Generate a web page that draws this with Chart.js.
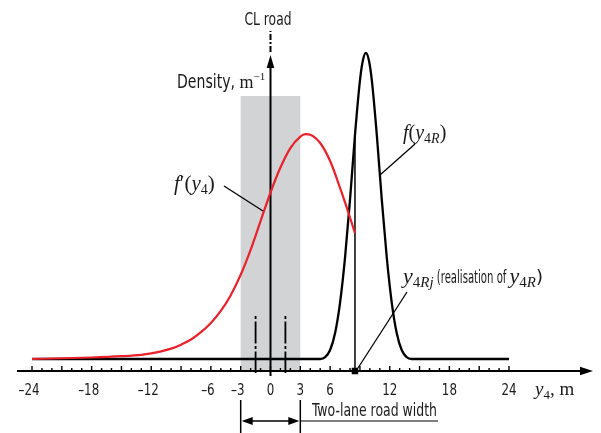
<!DOCTYPE html>
<html><head><meta charset="utf-8">
<script src="https://cdn.jsdelivr.net/npm/chart.js@4.4.1/dist/chart.umd.min.js"></script>
<style>html,body{margin:0;padding:0;background:#fff}#wrap{width:601px;height:433px;position:relative}</style>
</head><body><div id="wrap"><canvas id="c"></canvas></div>
<script>
// ---- data ----
const redX = [-24, -21, -18, -15, -13, -12, -11, -10, -9, -8, -7, -6, -5, -4, -3, -2, -1, 0, 1, 2, 3, 3.5, 4, 5, 6, 7, 8, 8.5];
const redY = [0.000, 0.0008, 0.0016, 0.0030, 0.0045, 0.0060, 0.0082, 0.0112, 0.0155, 0.0210, 0.0290, 0.0390, 0.0520, 0.0690, 0.0910, 0.1180, 0.1490, 0.1800, 0.2070, 0.2280, 0.2405, 0.2432, 0.2425, 0.2335, 0.2140, 0.1850, 0.1530, 0.1360];
const blackX = [-24, 5.0, 5.5, 6.0, 6.5, 7.0, 7.5, 8.0, 8.5, 9.0, 9.3, 9.6, 9.9, 10.2, 10.7, 11.2, 11.7, 12.2, 12.7, 13.2, 13.7, 14.2, 24];
const blackY = [0, 0, 0.002, 0.0097, 0.028, 0.061, 0.1097, 0.172, 0.242, 0.301, 0.323, 0.331, 0.323, 0.301, 0.242, 0.172, 0.1097, 0.061, 0.028, 0.0097, 0.002, 0, 0];
const tickLabels = [-24, -18, -12, -6, -3, 0, 3, 6, 12, 18, 24];
const roadEdges = [-3, 3];
const laneCentres = [-1.5, 1.5];
const realisationX = 8.5;
const realisationY = 0.242;
const xMin = -24, xMax = 24, yMin = -0.013, yMax = 0.3557;

const SANS = '"Liberation Sans Narrow","DejaVu Sans Condensed","Roboto Condensed",sans-serif';
const SERIF = '"Liberation Serif","DejaVu Serif",serif';

// parts: [text, font, dy, targetWidth]
function rich(ctx, x, y, parts, align) {
  const ws = parts.map(p => { ctx.font = p[1]; const n = ctx.measureText(p[0]).width; return p[3] ? p[3] : n; });
  const w = ws.reduce((a, b) => a + b, 0);
  let cx = align === 'center' ? x - w / 2 : (align === 'right' ? x - w : x);
  ctx.textAlign = 'left';
  parts.forEach((p, i) => {
    ctx.font = p[1];
    const n = ctx.measureText(p[0]).width;
    ctx.save();
    ctx.translate(cx, y + (p[2] || 0));
    ctx.scale(ws[i] / n, 1);
    ctx.fillText(p[0], 0, 0);
    ctx.restore();
    cx += ws[i];
  });
}
function line(ctx, x1, y1, x2, y2, w) {
  ctx.beginPath(); ctx.lineWidth = w; ctx.moveTo(x1, y1); ctx.lineTo(x2, y2); ctx.stroke();
}
function arrowHead(ctx, tx, ty, dx, dy, len, hw) {
  const bx = tx - dx * len, by = ty - dy * len;
  ctx.beginPath();
  ctx.moveTo(tx, ty);
  ctx.lineTo(bx - dy * hw, by + dx * hw);
  ctx.lineTo(bx + dy * hw, by - dx * hw);
  ctx.closePath(); ctx.fill();
}

const deco = {
  id: 'deco',
  beforeDatasetsDraw(chart) {
    const ctx = chart.ctx, xs = chart.scales.x, ys = chart.scales.y;
    const X = v => xs.getPixelForValue(v), Y = v => ys.getPixelForValue(v);
    const axY = Y(yMin);
    ctx.save();
    ctx.fillStyle = '#d1d3d4';
    ctx.fillRect(X(roadEdges[0]), 96, X(roadEdges[1]) - X(roadEdges[0]), axY - 96);
    ctx.strokeStyle = '#000'; ctx.fillStyle = '#000';
    line(ctx, 17, axY, 582, axY, 2);
    arrowHead(ctx, 593, axY, 1, 0, 13, 4.2);
    for (let v = xMin; v <= xMax; v++) {
      const h = (v % 3 === 0) ? 5 : 3;
      line(ctx, X(v), axY, X(v), axY - h, 1.4);
    }
    const x0 = X(0);
    line(ctx, x0, 376, x0, 64, 2);
    arrowHead(ctx, x0, 55, 0, -1, 13, 3.8);
    ctx.setLineDash([6, 2, 2, 2]);
    line(ctx, x0, 52, x0, 31, 2);
    ctx.setLineDash([]);
    ctx.setLineDash([3, 2.5, 22, 2.5]);
    for (const v of laneCentres) line(ctx, X(v), 316, X(v), axY + 2, 1.8);
    ctx.setLineDash([]);
    ctx.restore();
  },
  afterDraw(chart) {
    const ctx = chart.ctx, xs = chart.scales.x;
    const X = v => xs.getPixelForValue(v);
    ctx.save();
    ctx.fillStyle = '#1a1a1a'; ctx.strokeStyle = '#000';
    ctx.textBaseline = 'alphabetic';
    // tick labels: digits centred on tick, minus hanging left
    const tf = '15px ' + SANS, sq = 0.88;
    ctx.font = tf;
    for (const v of tickLabels) {
      const s = String(Math.abs(v));
      const w = ctx.measureText(s).width * sq;
      const cx = X(v);
      const parts = v < 0 ? [['\u2013', tf, 0, ctx.measureText('\u2013').width * sq], [s, tf, 0, w]] : [[s, tf, 0, w]];
      const dashW = v < 0 ? parts[0][3] : 0;
      rich(ctx, cx - w / 2 - dashW, 395, parts, 'left');
      ctx.font = tf;
    }
    rich(ctx, 535, 395, [['y', 'italic 19px ' + SERIF], ['4', '13px ' + SERIF, 4], [', m', '19px ' + SERIF]], 'left');
    rich(ctx, 268, 25, [['CL road', '18px ' + SANS, 0, 47]], 'center');
    rich(ctx, 177, 88, [['Density,', '19px ' + SANS, 0, 58], [' m', '18px ' + SERIF], ['\u22121', '11px ' + SERIF, -8]], 'left');
    rich(ctx, 174, 190, [['f', 'italic 21px ' + SERIF], ['\u2032', '21px ' + SERIF], ['(', '21px ' + SERIF], ['y', 'italic 21px ' + SERIF], ['4', '14px ' + SERIF, 4], [')', '21px ' + SERIF]], 'left');
    line(ctx, 224, 186, 263, 211, 1.3);
    rich(ctx, 403, 139, [['f', 'italic 20px ' + SERIF], ['(', '20px ' + SERIF], ['y', 'italic 20px ' + SERIF], ['4', '14px ' + SERIF, 4], ['R', 'italic 14px ' + SERIF, 4], [')', '20px ' + SERIF]], 'left');
    line(ctx, 415, 144, 380, 175, 1.3);
    rich(ctx, 403, 283, [['y', 'italic 22px ' + SERIF], ['4', '15px ' + SERIF, 4], ['Rj', 'italic 15px ' + SERIF, 4],
      [' (realisation of ', '18px ' + SANS, 0, 76], ['y', 'italic 22px ' + SERIF], ['4', '15px ' + SERIF, 4], ['R', 'italic 15px ' + SERIF, 4], [')', '18px ' + SANS, 0, 7]], 'left');
    line(ctx, 407, 292, 358, 368, 1.3);
    const a = X(roadEdges[0]), b = X(roadEdges[1]);
    line(ctx, a, 400, a, 433, 1.5);
    line(ctx, b, 400, b, 433, 1.5);
    line(ctx, a + 8, 421, b - 8, 421, 1.5);
    ctx.fillStyle = '#000';
    arrowHead(ctx, a + 1, 421, -1, 0, 11, 4);
    arrowHead(ctx, b - 1, 421, 1, 0, 11, 4);
    line(ctx, b, 421, 438, 421, 1.2);
    ctx.fillStyle = '#1a1a1a';
    rich(ctx, 312, 416, [['Two-lane road width', '18px ' + SANS, 0, 125]], 'left');
    ctx.restore();
  }
};

new Chart(document.getElementById('c'), {
  type: 'line',
  data: {
    datasets: [
      { label: "f'(y4)", data: redX.map((x, i) => ({ x, y: redY[i] })), borderColor: '#e8212b', borderWidth: 2.2, pointRadius: 0,
        cubicInterpolationMode: 'monotone', order: 0, clip: false, fill: false },
      { label: 'f(y4R)', data: blackX.map((x, i) => ({ x, y: blackY[i] })), borderColor: '#000', borderWidth: 2.3, pointRadius: 0,
        cubicInterpolationMode: 'monotone', order: 1, clip: false, fill: false },
      { label: 'y4Rj', data: [{ x: realisationX, y: yMin }, { x: realisationX, y: realisationY }], borderColor: '#000', borderWidth: 1.5,
        pointRadius: [4.6, 0], pointStyle: 'rect', pointBackgroundColor: '#000', pointBorderWidth: 0, order: 2, clip: false, tension: 0 }
    ]
  },
  options: {
    responsive: true, maintainAspectRatio: false, animation: false, devicePixelRatio: 1,
    layout: { padding: { left: 32, right: 92, top: 30, bottom: 62 } },
    plugins: { legend: { display: false }, tooltip: { enabled: false } },
    scales: {
      x: { type: 'linear', min: xMin, max: xMax, display: false },
      y: { type: 'linear', min: yMin, max: yMax, display: false }
    }
  },
  plugins: [deco]
});
</script></body></html>
